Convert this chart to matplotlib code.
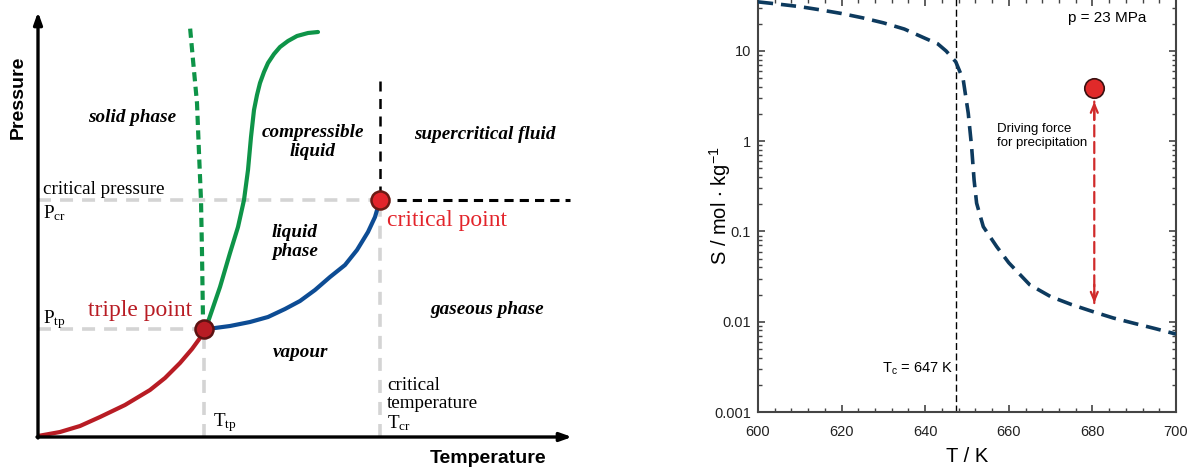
import numpy as np
import matplotlib
matplotlib.use("Agg")
import matplotlib.pyplot as plt
from matplotlib.ticker import MultipleLocator, LogLocator, NullFormatter, FixedLocator, FixedFormatter

# ---------------- Left panel: schematic phase diagram (arbitrary units) ----------------
triple_T, triple_P = 166, 108
crit_T, crit_P = 342, 237

sub_T = [0, 22, 42, 62, 87, 112, 127, 142, 154, 162, 166]
sub_P = [1, 5, 11, 20, 32, 47, 59, 74, 88, 99, 108]

vap_T = [166, 177, 192, 212, 230, 247, 262, 277, 292, 307, 319, 330, 337, 342]
vap_P = [108, 109, 111, 115, 120, 128, 136, 147, 160, 172, 187, 205, 220, 237]

melt_dash_T = [166, 165, 164, 163, 161, 159, 155, 152]
melt_dash_P = [108, 117, 184, 237, 284, 334, 377, 410]

melt_T = [166, 170, 182, 192, 200, 206, 210, 213, 216, 219, 222, 226, 230, 236, 242, 250, 259, 270, 280]
melt_P = [108, 115, 150, 184, 210, 237, 267, 300, 327, 342, 354, 365, 374, 383, 390, 396, 401, 404, 405]

T_axis_max, P_axis_max = 534, 425

# ---------------- Right panel: solubility at p = 23 MPa ----------------
T_K = [600, 605, 610, 615, 620, 625, 630, 635, 640, 643, 645, 647.3, 649.1, 650.3,
       651.1, 651.7, 652.3, 653.9, 657.1, 660, 665, 670, 675, 680, 685, 690, 695, 700]
S_mol = [35, 33, 31, 28.5, 26, 23.3, 20.5, 17.5, 13.8, 12, 10, 7.6, 4.8, 2.04,
         0.87, 0.37, 0.206, 0.113, 0.068, 0.045, 0.0257, 0.019, 0.0155, 0.013, 0.011,
         0.0096, 0.0084, 0.0073]
Tc = 647.3
point_T, point_S = 680.45, 3.87
arrow_top, arrow_bottom = 2.75, 0.0161
x_ticks = [600, 620, 640, 660, 680, 700]
y_ticks = [0.001, 0.01, 0.1, 1, 10]
y_tick_labels = ["0.001", "0.01", "0.1", "1", "10"]

W, H = 1190, 469
fig = plt.figure(figsize=(W / 100, H / 100), dpi=100)

serif = "Liberation Serif"
sans = "Liberation Sans"
plt.rcParams["mathtext.default"] = "regular"

# ---- left axes ----
axL = fig.add_axes([38 / W, (H - 437) / H, 534 / W, 425 / H])
axL.set_xlim(0, T_axis_max)
axL.set_ylim(0, P_axis_max)
axL.axis("off")

gray = "#d4d4d4"
gdash = (3.6, 2.5)
axL.plot([0, triple_T], [triple_P, triple_P], color=gray, lw=2.6, dashes=gdash, zorder=1)
axL.plot([0, crit_T], [crit_P, crit_P], color=gray, lw=2.6, dashes=gdash, zorder=1)
axL.plot([triple_T, triple_T], [0, triple_P], color=gray, lw=2.6, dashes=gdash, zorder=1)
axL.plot([crit_T, crit_T], [0, crit_P], color=gray, lw=2.6, dashes=gdash, zorder=1)
axL.plot([crit_T + 17, T_axis_max - 2], [crit_P, crit_P], color="black", lw=2.2, dashes=(3.0, 2.0), zorder=1)
axL.plot([crit_T, crit_T], [crit_P + 4, 357], color="black", lw=1.8, dashes=(4.0, 3.0), zorder=1)

axL.plot(sub_T, sub_P, color="#b81c24", lw=3, solid_capstyle="round", solid_joinstyle="round", zorder=3)
axL.plot(vap_T, vap_P, color="#0d4c94", lw=3, solid_capstyle="round", solid_joinstyle="round", zorder=3)
axL.plot(melt_T, melt_P, color="#0e9448", lw=3, solid_capstyle="round", solid_joinstyle="round", zorder=3)
axL.plot(melt_dash_T, melt_dash_P, color="#0e9448", lw=3, dashes=(2.2, 1.3), zorder=3)

axL.plot([triple_T], [triple_P], "o", ms=13, mfc="#b81c24", mec="#5c1212", mew=1.8, zorder=5)
axL.plot([crit_T], [crit_P], "o", ms=13, mfc="#e3242b", mec="#6b1a14", mew=1.8, zorder=5)

# axes arrows
arrow_kw = dict(arrowstyle="-|>,head_length=0.7,head_width=0.25", color="black", lw=2.4,
                shrinkA=0, shrinkB=0)
axL.annotate("", xy=(T_axis_max, 0), xytext=(-1, 0), arrowprops=arrow_kw, annotation_clip=False)
axL.annotate("", xy=(0, P_axis_max), xytext=(0, -1), arrowprops=arrow_kw, annotation_clip=False)

axL.text(-20, 340, "Pressure", rotation=90, ha="center", va="center", fontsize=14,
         fontweight="bold", family=sans)
axL.text(450, -21, "Temperature", ha="center", va="center", fontsize=14,
         fontweight="bold", family=sans)

ital = dict(family=serif, style="italic", fontweight="bold", fontsize=13.8, ha="center", va="center")
axL.text(94, 320, "solid phase", **ital)
axL.text(275, 295, "compressible\nliquid", linespacing=1.2, **ital)
axL.text(447, 303, "supercritical fluid", **ital)
axL.text(257, 195, "liquid\nphase", linespacing=1.2, **ital)
axL.text(449, 128, "gaseous phase", **ital)
axL.text(263, 85, "vapour", **ital)

reg = dict(family=serif, fontsize=13.8, ha="left", va="center")
axL.text(5, 248, "critical pressure", **reg)
axL.text(5, 224, r"P$_{cr}$", **reg)
axL.text(5, 117, r"P$_{tp}$", **reg)
axL.text(175, 14, r"T$_{tp}$", **reg)
axL.text(349, 32, "critical\ntemperature\n" + r"T$_{cr}$", linespacing=1.1, **reg)

axL.text(102, 127, "triple point", family=serif, fontsize=17, color="#b81c24", ha="center", va="center")
axL.text(349, 217, "critical point", family=serif, fontsize=17, color="#e3242b", ha="left", va="center")

# ---- right axes ----
axR = fig.add_axes([758 / W, (H - 412) / H, 418 / W, 413 / H])
axR.set_yscale("log")
axR.set_xlim(600, 700)
axR.set_ylim(0.001, 10 ** (1 + 52 / 90.3))

axR.plot(T_K, S_mol, color="#0d3a5e", lw=2.6, dashes=(4.2, 2.2), zorder=3)
axR.axvline(Tc, color="black", lw=1.0, dashes=(5, 2.5), zorder=2)

axR.annotate("", xy=(point_T, arrow_top), xytext=(point_T, arrow_bottom),
             arrowprops=dict(arrowstyle="-", color="#d02a2a", lw=1.6, ls=(0, (5, 2.5)),
                             shrinkA=0, shrinkB=0))
for tip, base in [(arrow_top, arrow_top / 1.6), (arrow_bottom, arrow_bottom * 1.6)]:
    axR.annotate("", xy=(point_T, tip), xytext=(point_T, base),
                 arrowprops=dict(arrowstyle="->,head_length=0.6,head_width=0.25", color="#d02a2a",
                                 lw=1.6, shrinkA=0, shrinkB=0))
axR.plot([point_T], [point_S], "o", ms=14, mfc="#e02a2a", mec="#3a1010", mew=1.2, zorder=5)

axR.text(674.2, 23.2, "p = 23 MPa", family=sans, fontsize=11, ha="left", va="center")
axR.text(657.2, 1.145, "Driving force\nfor precipitation", family=sans, fontsize=9.5,
         ha="left", va="center", linespacing=1.15)
axR.text(646.7, 0.003, r"T$_c$ = 647 K", family=sans, fontsize=10.5, ha="right", va="center")

axR.xaxis.set_major_locator(FixedLocator(x_ticks))
axR.xaxis.set_minor_locator(MultipleLocator(4))
axR.yaxis.set_major_locator(FixedLocator(y_ticks))
axR.yaxis.set_major_formatter(FixedFormatter(y_tick_labels))
axR.yaxis.set_minor_locator(LogLocator(base=10, subs=np.arange(2, 10)))
axR.yaxis.set_minor_formatter(NullFormatter())

for sp in axR.spines.values():
    sp.set_color("#444444")
    sp.set_linewidth(1.5)
axR.tick_params(which="both", direction="in", top=True, right=True, color="#444444")
axR.tick_params(which="major", length=5, width=1.2)
axR.tick_params(which="minor", length=3, width=1.0)
axR.tick_params(axis="x", which="major", pad=9)
axR.tick_params(axis="y", which="major", pad=5)
for lab in axR.get_xticklabels() + axR.get_yticklabels():
    lab.set_family(sans)
    lab.set_fontsize(10.5)
    lab.set_color("#222222")

axR.set_xlabel("T / K", family=sans, fontsize=14.5, labelpad=6)
axR.set_ylabel(r"S / mol $\cdot$ kg$^{-1}$", family=sans, fontsize=14.5)
axR.yaxis.set_label_coords(-0.06, 0.5)

fig.savefig("out.png", dpi=100)
